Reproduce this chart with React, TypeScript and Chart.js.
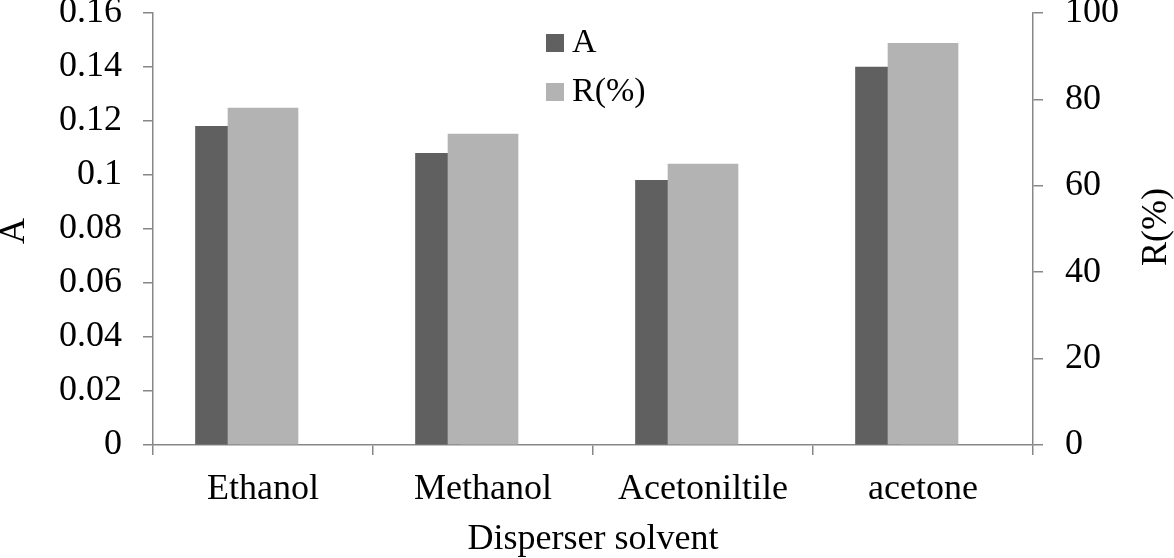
import React, { useEffect, useRef } from "react";
import { Chart, registerables } from "chart.js";

Chart.register(...registerables);

const categories = ["Ethanol", "Methanol", "Acetoniltile", "acetone"];
const seriesA = [0.118, 0.108, 0.098, 0.14];
const seriesR = [78, 72, 65, 93];
const leftTicks = ["0", "0.02", "0.04", "0.06", "0.08", "0.1", "0.12", "0.14", "0.16"];
const rightTicks = ["0", "20", "40", "60", "80", "100"];
const nullRow = [null, null, null, null];

const colorA = "#606060";
const colorR = "#b3b3b3";
const axisColor = "#878787";
const FONT = "Liberation Serif";
const FS = 36;

const overlayPlugin = {
  id: "overlay",
  afterDraw(chart: any) {
    const ctx = chart.ctx;
    const ca = chart.chartArea;
    ctx.save();
    ctx.fillStyle = "#000";
    ctx.font = `${FS}px "${FONT}"`;
    // x title
    ctx.textAlign = "center";
    ctx.textBaseline = "alphabetic";
    ctx.fillText("Disperser solvent", (ca.left + ca.right) / 2, 549);
    // left title
    ctx.save();
    ctx.translate(24, (ca.top + ca.bottom) / 2 + 2);
    ctx.rotate(-Math.PI / 2);
    ctx.fillText("A", 0, 0);
    ctx.restore();
    // right title
    ctx.save();
    ctx.translate(1166, (ca.top + ca.bottom) / 2 - 2);
    ctx.rotate(-Math.PI / 2);
    ctx.fillText("R(%)", 0, 0);
    ctx.restore();
    // legend
    const items = [
      { label: "A", color: colorA, y: 43 },
      { label: "R(%)", color: colorR, y: 92 },
    ];
    ctx.textAlign = "left";
    ctx.textBaseline = "middle";
    ctx.font = `${FS - 2}px "${FONT}"`;
    for (const it of items) {
      ctx.fillStyle = it.color;
      ctx.fillRect(546, it.y - 9, 18, 18);
      ctx.fillStyle = "#000";
      ctx.fillText(it.label, 572, it.y);
    }
    ctx.restore();
  },
};

export default function App() {
  const ref = useRef<HTMLCanvasElement | null>(null);
  useEffect(() => {
    if (!ref.current) return;
    const tickFont = { family: FONT, size: FS };
    const chart = new Chart(ref.current, {
      type: "bar",
      data: {
        labels: categories,
        datasets: [
          { label: "_s1", data: nullRow, stack: "a", yAxisID: "y", barThickness: 45, backgroundColor: colorA },
          { label: "R(%)", data: seriesR, stack: "b", yAxisID: "y1", barThickness: 70, backgroundColor: colorR },
          { label: "A", data: seriesA, stack: "a", yAxisID: "y", barThickness: 45, backgroundColor: colorA },
          { label: "_s2", data: nullRow, stack: "c", yAxisID: "y", barThickness: 45, backgroundColor: colorA },
        ] as any,
      },
      options: {
        animation: false,
        responsive: false,
        layout: { padding: { top: 13, left: 0, right: 0, bottom: 0 } },
        plugins: { legend: { display: false }, tooltip: { enabled: false } },
        scales: {
          x: {
            offset: true,
            grid: { display: true, offset: true, drawOnChartArea: false, drawTicks: true, tickLength: 10, color: axisColor, lineWidth: 1.5 },
            border: { display: true, color: axisColor, width: 1.5 },
            ticks: { font: tickFont, color: "#000", padding: 13, maxRotation: 0, autoSkip: false },
            afterFit: (s: any) => { s.height = 113; s.paddingLeft = 0; s.paddingRight = 0; },
          },
          y: {
            position: "left",
            stacked: false,
            min: 0,
            max: 0.16,
            grid: { display: true, drawOnChartArea: false, drawTicks: true, tickLength: 10, color: axisColor, lineWidth: 1.5 },
            border: { display: true, color: axisColor, width: 1.5 },
            ticks: {
              stepSize: 0.02,
              font: tickFont,
              color: "#000",
              padding: 21,
              callback: (_v: any, i: number) => leftTicks[i],
            },
            afterFit: (s: any) => { s.width = 153; s.paddingTop = 0; s.paddingBottom = 0; },
          },
          y1: {
            position: "right",
            stacked: false,
            min: 0,
            max: 100,
            grid: { display: true, drawOnChartArea: false, drawTicks: true, tickLength: 10, color: axisColor, lineWidth: 1.5 },
            border: { display: true, color: axisColor, width: 1.5 },
            ticks: {
              stepSize: 20,
              font: tickFont,
              color: "#000",
              padding: 22,
              callback: (_v: any, i: number) => rightTicks[i],
            },
            afterFit: (s: any) => { s.width = 141; s.paddingTop = 0; s.paddingBottom = 0; },
          },
        },
      } as any,
      plugins: [overlayPlugin],
    });
    return () => chart.destroy();
  }, []);
  return (
    <div style={{ position: "fixed", left: 0, top: 0, width: 1174, height: 558, background: "#fff" }}>
      <canvas ref={ref} width={1174} height={558} style={{ width: 1174, height: 558, display: "block" }} />
    </div>
  );
}
